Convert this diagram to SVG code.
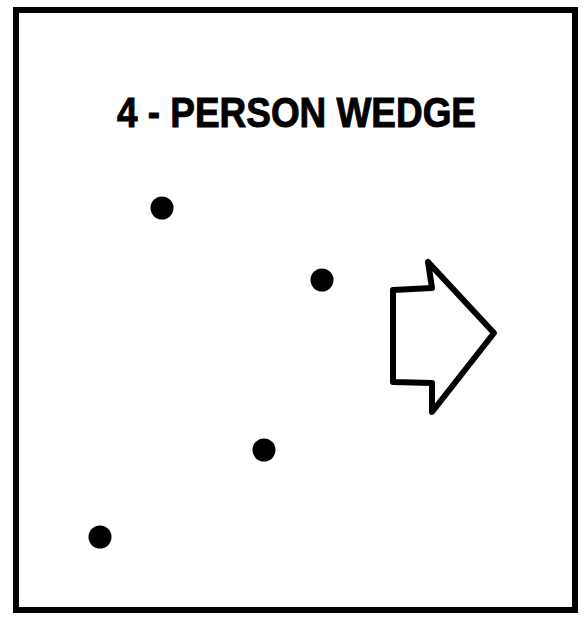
<svg xmlns="http://www.w3.org/2000/svg" width="585" height="621" viewBox="0 0 585 621">
<style>
.dot{fill:#000}
.title{font-family:"Liberation Sans",Arial,sans-serif;font-weight:bold;font-size:43px;fill:#000;stroke:#000;stroke-width:1}
</style>
<rect width="585" height="621" fill="#fff"/>
<rect id="frame" x="16" y="10" width="559" height="600" fill="none" stroke="#000" stroke-width="6"/>
<text class="title" x="117" y="127" textLength="359" lengthAdjust="spacingAndGlyphs">4 - PERSON WEDGE</text>
<g id="p1"><circle class="dot" cx="162" cy="208" r="11.5"/></g>
<g id="p2"><circle class="dot" cx="322" cy="280" r="11.5"/></g>
<g id="p3"><circle class="dot" cx="264" cy="450" r="11.5"/></g>
<g id="p4"><circle class="dot" cx="100" cy="537" r="11.5"/></g>
<g id="arrow"><polygon points="428,262 432,288 393,290 393,382 432,383 432,412 494,333" fill="none" stroke="#000" stroke-width="6" stroke-linejoin="round"/></g>
</svg>
